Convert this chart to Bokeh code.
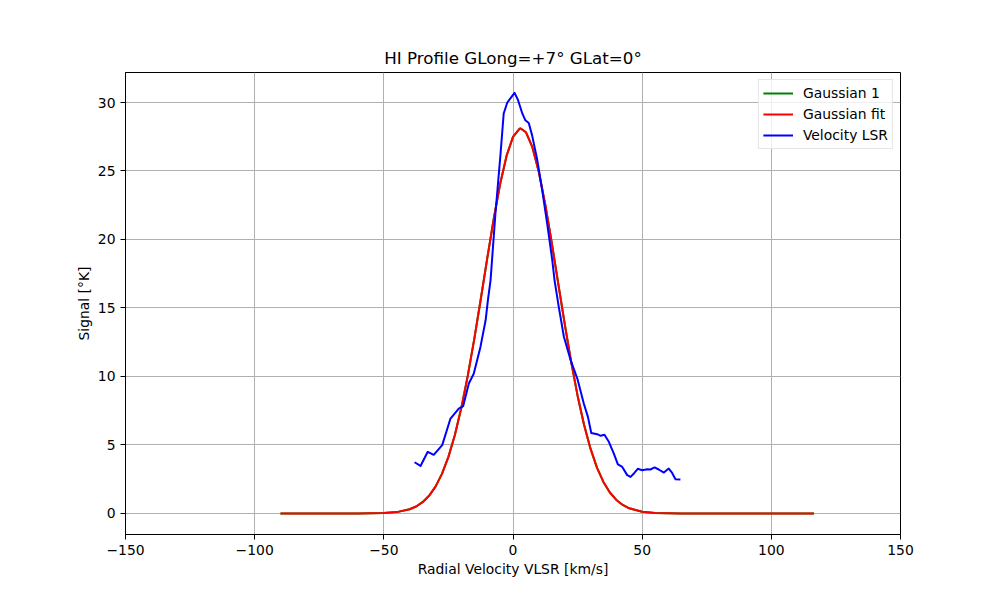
from bokeh.plotting import figure
from bokeh.models import Range1d, FixedTicker, CustomJSTickFormatter
from bokeh.embed import file_html
from bokeh.resources import INLINE

# ---- data ----
fit_v = [-90.0, -80.0, -70.0, -60.0, -55.0, -50.0, -45.0, -40.0, -37.5, -35.0, -32.5, -30.0,
         -27.5, -25.0, -22.5, -20.0, -17.5, -15.0, -12.5, -10.0, -7.5, -5.0, -2.5, 0.0,
         2.5, 3.0, 5.0, 7.5, 10.0, 12.5, 15.0, 17.5, 20.0, 22.5, 25.0, 27.5, 30.0, 32.5,
         35.0, 37.5, 40.0, 42.5, 45.0, 50.0, 55.0, 60.0, 65.0, 70.0, 80.0, 90.0, 100.0, 116.5]
fit_t = [0.0, 0.0, 0.0, 0.002, 0.008, 0.029, 0.10, 0.306, 0.509, 0.823, 1.29, 1.96,
         2.89, 4.13, 5.73, 7.71, 10.06, 12.73, 15.62, 18.59, 21.46, 24.03, 26.10, 27.49,
         28.08, 28.1, 27.83, 26.74, 24.93, 22.54, 19.76, 16.80, 13.86, 11.09, 8.60, 6.48, 4.73, 3.35,
         2.30, 1.53, 0.989, 0.620, 0.377, 0.127, 0.038, 0.010, 0.002, 0.0, 0.0, 0.0, 0.0, 0.0]

lsr_v = [-38.1, -35.8, -33.0, -30.7, -27.4, -24.2, -21.0, -19.3, -17.1, -15.2, -12.6, -10.6,
         -9.7, -8.7, -6.8, -4.8, -3.6, -2.2, -1.0, 0.6, 1.9, 3.6, 4.8, 6.1, 7.4, 9.4, 11.3,
         13.2, 15.2, 16.1, 17.7, 19.7, 22.3, 24.9, 27.4, 29.0, 30.3, 32.6, 33.9, 35.4, 37.1,
         39.0, 40.6, 42.3, 44.2, 45.5, 46.8, 48.3, 50.0, 52.0, 53.2, 54.8, 56.4, 58.4, 60.3,
         61.6, 62.9, 64.8]
lsr_t = [3.74, 3.47, 4.50, 4.28, 4.99, 6.93, 7.66, 7.83, 9.49, 10.2, 12.16, 14.1,
         15.6, 17.0, 21.9, 26.3, 29.2, 30.0, 30.3, 30.7, 30.2, 29.2, 28.7, 28.5, 27.6, 25.8, 23.6,
         21.2, 18.5, 17.0, 15.1, 12.9, 11.2, 9.85, 8.03, 7.05, 5.88, 5.79, 5.67, 5.74, 5.23,
         4.38, 3.58, 3.40, 2.80, 2.67, 2.92, 3.26, 3.16, 3.23, 3.21, 3.36, 3.21, 2.99, 3.28,
         2.96, 2.50, 2.48]

x_ticks = [-150, -100, -50, 0, 50, 100, 150]
y_ticks = [0, 5, 10, 15, 20, 25, 30]

FONT = "DejaVu Sans"

p = figure(frame_width=775, frame_height=462,
           min_border_left=125, min_border_right=98, min_border_top=72, min_border_bottom=64,
           x_range=Range1d(-150, 150), y_range=Range1d(-1.535, 32.19),
           output_backend="svg", toolbar_location=None,
           title="HI Profile GLong=+7° GLat=0°")

p.title.align = "center"
p.title.text_font = FONT
p.title.text_font_size = "16.7px"
p.title.text_font_style = "normal"
p.title.text_color = "black"

p.background_fill_color = "white"
p.border_fill_color = "white"
p.outline_line_color = "black"
p.outline_line_width = 1

for g in (p.xgrid, p.ygrid):
    g.grid_line_color = "#b0b0b0"
    g.grid_line_width = 1

p.xaxis.ticker = FixedTicker(ticks=x_ticks)
p.yaxis.ticker = FixedTicker(ticks=y_ticks)
fmt = "return tick < 0 ? '\u2212' + (-tick) : '' + tick;"
p.xaxis.formatter = CustomJSTickFormatter(code=fmt)
p.yaxis.formatter = CustomJSTickFormatter(code=fmt)

p.xaxis.axis_label = "Radial Velocity VLSR [km/s]"
p.yaxis.axis_label = "Signal [°K]"
for ax in (p.xaxis[0], p.yaxis[0]):
    ax.axis_label_text_font = FONT
    ax.axis_label_text_font_size = "13.9px"
    ax.axis_label_text_font_style = "normal"
    ax.axis_label_text_color = "black"
    ax.major_label_text_font = FONT
    ax.major_label_text_font_size = "13.9px"
    ax.major_label_text_color = "black"
    ax.major_tick_out = 5
    ax.major_tick_in = 0
    ax.minor_tick_out = 0
    ax.minor_tick_in = 0
    ax.major_tick_line_color = "black"
    ax.axis_line_color = "black"
    ax.major_label_standoff = 5
    ax.axis_label_standoff = 3

p.line(fit_v, fit_t, line_color="green", line_width=2, line_join="round", legend_label="Gaussian 1")
p.line(fit_v, fit_t, line_color="red", line_width=2, line_join="round", legend_label="Gaussian fit")
p.line(lsr_v, lsr_t, line_color="blue", line_width=2, line_join="round", legend_label="Velocity LSR")

lg = p.legend[0]
lg.location = "top_right"
lg.margin = 7
lg.padding = 4
lg.spacing = 3
lg.glyph_width = 30
lg.glyph_height = 18
lg.label_height = 18
lg.label_standoff = 10
lg.label_text_font = FONT
lg.label_text_font_size = "13.9px"
lg.label_text_color = "black"
lg.border_line_color = "#cccccc"
lg.border_line_width = 1
lg.background_fill_alpha = 0.8

open("out.html", "w").write(file_html(p, INLINE))
